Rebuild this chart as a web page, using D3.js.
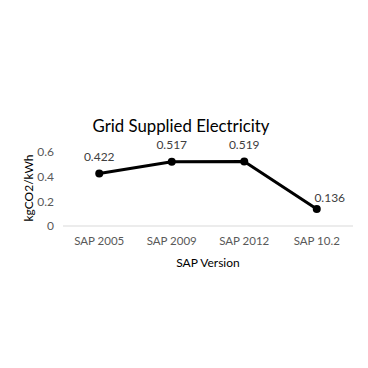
<!DOCTYPE html>
<html><head><meta charset="utf-8">
<script src="https://cdn.jsdelivr.net/npm/d3@7"></script>
<style>body{margin:0;background:#fff}svg{display:block}</style>
</head><body>
<script>
const categories = ["SAP 2005", "SAP 2009", "SAP 2012", "SAP 10.2"];
const values = [0.422, 0.517, 0.519, 0.136];
const labels = ["0.422", "0.517", "0.519", "0.136"];
const yTicks = [0, 0.2, 0.4, 0.6];

(function () {
const W = 368, H = 368;
const svg = d3.select("body").append("svg").attr("width", W).attr("height", H);
const font = "Lato, 'Open Sans', sans-serif";
const mLeft = 63, mRight = 353, mTop = 151.5, mBottom = 226;

const x = d3.scaleBand().domain(categories).range([mLeft, mRight]);
const y = d3.scaleLinear().domain([0, 0.6]).range([mBottom, mTop]);

svg.append("line").attr("x1", mLeft).attr("x2", mRight).attr("y1", y(0)).attr("y2", y(0))
  .attr("stroke", "#d9d9d9").attr("stroke-width", 1);

const yAxis = svg.append("g").attr("transform", `translate(${mLeft},0)`)
  .call(d3.axisLeft(y).tickValues(yTicks).tickSize(0).tickPadding(9).tickFormat(d => d === 0 ? "0" : d3.format(".1f")(d)));
yAxis.select(".domain").remove();
yAxis.selectAll("text").attr("font-family", font).attr("font-size", 12).attr("fill", "#595959");

const xAxis = svg.append("g").attr("transform", `translate(0,${mBottom})`)
  .call(d3.axisBottom(x).tickSize(0).tickPadding(11));
xAxis.select(".domain").remove();
xAxis.selectAll("text").attr("font-family", font).attr("font-size", 11.5).attr("fill", "#595959");

const cx = d => x(d) + x.bandwidth() / 2;
const line = d3.line().x((d, i) => cx(categories[i])).y(d => y(d));
svg.append("path").datum(values).attr("d", line).attr("fill", "none")
  .attr("stroke", "#000").attr("stroke-width", 3).attr("stroke-linejoin", "round");
svg.selectAll("circle.pt").data(values).enter().append("circle")
  .attr("cx", (d, i) => cx(categories[i])).attr("cy", d => y(d)).attr("r", 4).attr("fill", "#000");

svg.selectAll("text.lbl").data(values).enter().append("text")
  .attr("x", (d, i) => cx(categories[i]) + (i === values.length - 1 ? 13 : 0))
  .attr("y", (d, i) => y(d) - (i === values.length - 1 ? 11 : 17))
  .attr("dy", "0.35em").attr("text-anchor", "middle")
  .attr("font-family", font).attr("font-size", 12).attr("fill", "#404040")
  .text((d, i) => labels[i]);

svg.append("text").attr("x", 181).attr("y", 126).attr("dy", "0.35em").attr("text-anchor", "middle")
  .attr("font-family", font).attr("font-size", 16.8).attr("fill", "#000").text("Grid Supplied Electricity");

svg.append("text").attr("x", (mLeft + mRight) / 2).attr("y", 263).attr("dy", "0.35em").attr("text-anchor", "middle")
  .attr("font-family", font).attr("font-size", 12).attr("fill", "#000").text("SAP Version");

svg.append("text").attr("transform", `translate(29,188) rotate(-90)`).attr("dy", "0.35em").attr("text-anchor", "middle")
  .attr("font-family", font).attr("font-size", 12).attr("fill", "#000").text("kgCO2/kWh");
})();
</script>
</body></html>
